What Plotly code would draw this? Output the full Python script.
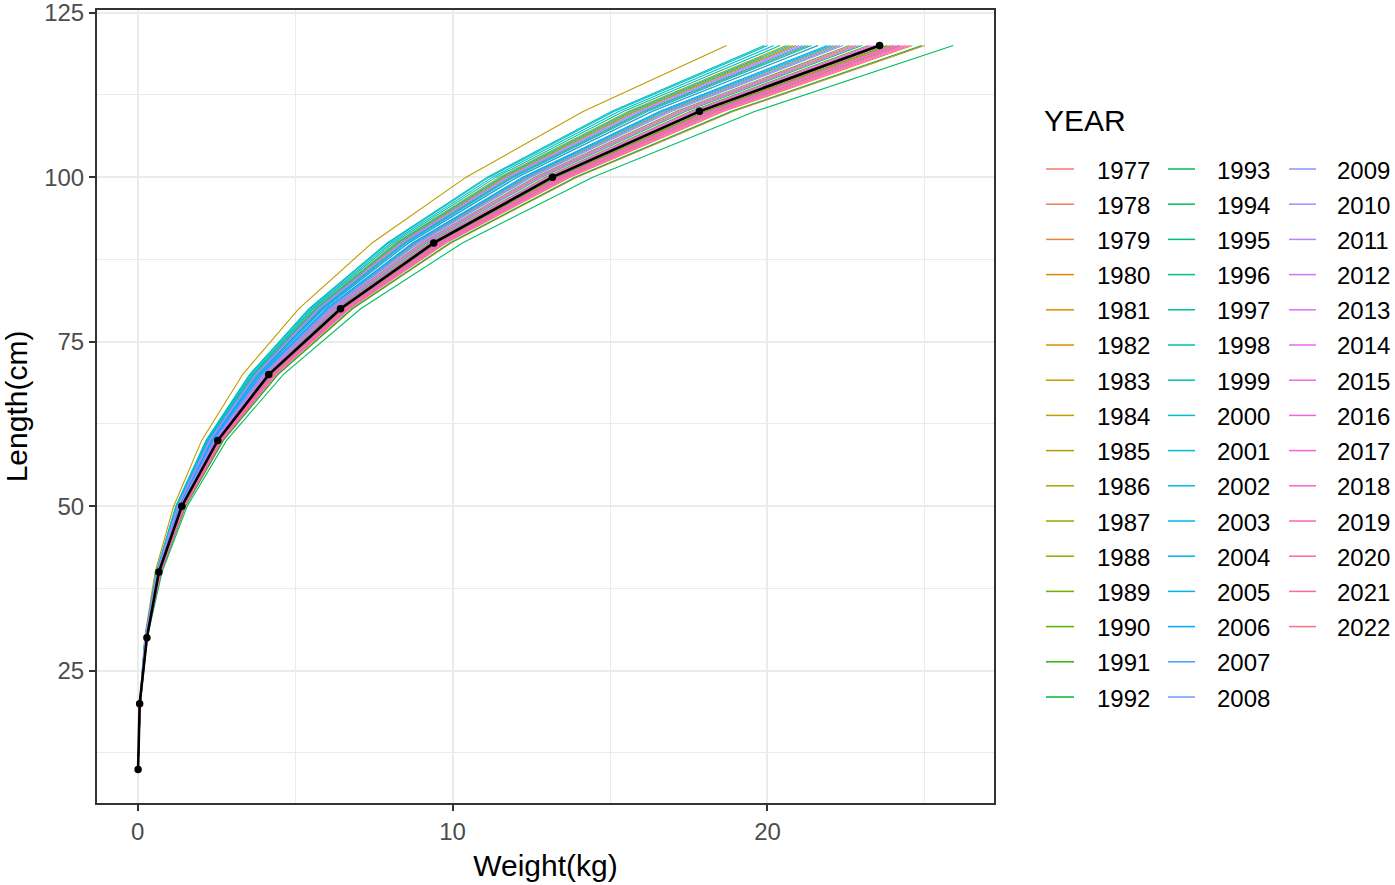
import math
import plotly.graph_objects as go

# Body length classes (cm)
LENGTHS = [10, 20, 30, 40, 50, 60, 70, 80, 90, 100, 110, 120]

# Reference length-weight curve (kg), drawn in black
MEAN_W = [0.01, 0.06, 0.29, 0.67, 1.40, 2.54, 4.16, 6.44, 9.40, 13.17, 17.84, 23.56]

# Yearly length-weight curves (kg at each length class)
W1977 = [0.009, 0.078, 0.28, 0.72, 1.48, 2.64, 4.33, 6.64, 9.67, 13.56, 18.40, 24.3]
W1978 = [0.009, 0.079, 0.29, 0.73, 1.49, 2.68, 4.38, 6.72, 9.79, 13.73, 18.62, 24.6]
W1979 = [0.009, 0.080, 0.29, 0.74, 1.52, 2.72, 4.46, 6.83, 9.95, 13.95, 18.93, 25.0]
W1980 = [0.008, 0.076, 0.28, 0.71, 1.45, 2.60, 4.26, 6.53, 9.51, 13.34, 18.09, 23.9]
W1981 = [0.008, 0.073, 0.26, 0.67, 1.38, 2.48, 4.06, 6.23, 9.08, 12.72, 17.26, 22.8]
W1982 = [0.008, 0.069, 0.25, 0.64, 1.31, 2.35, 3.85, 5.90, 8.60, 12.05, 16.35, 21.6]
W1983 = [0.008, 0.071, 0.26, 0.66, 1.35, 2.42, 3.96, 6.07, 8.84, 12.39, 16.81, 22.2]
W1984 = [0.007, 0.060, 0.22, 0.55, 1.14, 2.03, 3.33, 5.11, 7.44, 10.43, 14.16, 18.7]
W1985 = [0.007, 0.067, 0.24, 0.62, 1.26, 2.26, 3.71, 5.68, 8.28, 11.61, 15.75, 20.8]
W1986 = [0.007, 0.066, 0.24, 0.61, 1.25, 2.24, 3.67, 5.63, 8.20, 11.49, 15.59, 20.6]
W1987 = [0.007, 0.067, 0.24, 0.62, 1.27, 2.27, 3.72, 5.71, 8.32, 11.66, 15.82, 20.9]
W1988 = [0.007, 0.068, 0.25, 0.63, 1.29, 2.32, 3.80, 5.82, 8.48, 11.89, 16.12, 21.3]
W1989 = [0.008, 0.072, 0.26, 0.67, 1.37, 2.46, 4.03, 6.17, 9.00, 12.61, 17.11, 22.6]
W1990 = [0.008, 0.074, 0.27, 0.69, 1.41, 2.52, 4.13, 6.34, 9.24, 12.95, 17.56, 23.2]
W1991 = [0.008, 0.076, 0.28, 0.70, 1.44, 2.59, 4.24, 6.50, 9.47, 13.28, 18.02, 23.8]
W1992 = [0.009, 0.080, 0.29, 0.74, 1.51, 2.71, 4.44, 6.80, 9.91, 13.89, 18.85, 24.9]
W1993 = [0.008, 0.077, 0.28, 0.72, 1.47, 2.63, 4.31, 6.61, 9.63, 13.50, 18.32, 24.2]
W1994 = [0.009, 0.083, 0.30, 0.77, 1.57, 2.82, 4.62, 7.08, 10.31, 14.45, 19.61, 25.9]
W1995 = [0.008, 0.077, 0.28, 0.71, 1.46, 2.61, 4.28, 6.56, 9.55, 13.39, 18.17, 24.0]
W1996 = [0.008, 0.074, 0.27, 0.68, 1.40, 2.50, 4.10, 6.28, 9.16, 12.83, 17.41, 23.0]
W1997 = [0.008, 0.070, 0.26, 0.65, 1.34, 2.39, 3.92, 6.01, 8.76, 12.28, 16.65, 22.0]
W1998 = [0.007, 0.065, 0.24, 0.60, 1.24, 2.22, 3.64, 5.57, 8.12, 11.38, 15.44, 20.4]
W1999 = [0.007, 0.064, 0.23, 0.59, 1.21, 2.18, 3.56, 5.46, 7.96, 11.16, 15.14, 20.0]
W2000 = [0.007, 0.064, 0.23, 0.59, 1.21, 2.17, 3.55, 5.44, 7.92, 11.10, 15.06, 19.9]
W2001 = [0.007, 0.065, 0.23, 0.60, 1.23, 2.20, 3.60, 5.52, 8.04, 11.27, 15.29, 20.2]
W2002 = [0.007, 0.066, 0.24, 0.61, 1.26, 2.25, 3.69, 5.66, 8.24, 11.55, 15.67, 20.7]
W2003 = [0.007, 0.068, 0.25, 0.63, 1.29, 2.31, 3.78, 5.79, 8.44, 11.83, 16.05, 21.2]
W2004 = [0.007, 0.068, 0.25, 0.63, 1.30, 2.33, 3.81, 5.85, 8.52, 11.94, 16.20, 21.4]
W2005 = [0.008, 0.069, 0.25, 0.64, 1.31, 2.35, 3.85, 5.90, 8.60, 12.05, 16.35, 21.6]
W2006 = [0.008, 0.070, 0.25, 0.65, 1.33, 2.38, 3.90, 5.98, 8.72, 12.22, 16.58, 21.9]
W2007 = [0.008, 0.071, 0.26, 0.65, 1.34, 2.40, 3.94, 6.04, 8.80, 12.33, 16.73, 22.1]
W2008 = [0.008, 0.071, 0.26, 0.66, 1.35, 2.43, 3.97, 6.09, 8.88, 12.44, 16.88, 22.3]
W2009 = [0.008, 0.072, 0.26, 0.66, 1.36, 2.44, 3.99, 6.12, 8.92, 12.50, 16.96, 22.4]
W2010 = [0.007, 0.067, 0.24, 0.62, 1.27, 2.28, 3.74, 5.74, 8.36, 11.72, 15.90, 21.0]
W2011 = [0.007, 0.068, 0.24, 0.62, 1.28, 2.30, 3.76, 5.76, 8.40, 11.77, 15.97, 21.1]
W2012 = [0.008, 0.073, 0.26, 0.67, 1.38, 2.47, 4.05, 6.20, 9.04, 12.67, 17.18, 22.7]
W2013 = [0.008, 0.073, 0.27, 0.68, 1.39, 2.49, 4.08, 6.26, 9.12, 12.78, 17.34, 22.9]
W2014 = [0.008, 0.075, 0.27, 0.69, 1.41, 2.54, 4.15, 6.37, 9.28, 13.00, 17.64, 23.3]
W2015 = [0.008, 0.075, 0.27, 0.69, 1.42, 2.55, 4.17, 6.39, 9.32, 13.06, 17.71, 23.4]
W2016 = [0.008, 0.077, 0.28, 0.71, 1.46, 2.61, 4.28, 6.56, 9.55, 13.39, 18.17, 24.0]
W2017 = [0.008, 0.077, 0.28, 0.72, 1.47, 2.63, 4.31, 6.61, 9.63, 13.50, 18.32, 24.2]
W2018 = [0.009, 0.078, 0.28, 0.72, 1.48, 2.65, 4.35, 6.67, 9.71, 13.62, 18.47, 24.4]
W2019 = [0.009, 0.078, 0.28, 0.73, 1.49, 2.67, 4.37, 6.69, 9.75, 13.67, 18.55, 24.5]
W2020 = [0.008, 0.077, 0.28, 0.71, 1.46, 2.62, 4.29, 6.58, 9.59, 13.45, 18.24, 24.1]
W2021 = [0.008, 0.076, 0.27, 0.70, 1.44, 2.58, 4.22, 6.47, 9.43, 13.22, 17.94, 23.7]
W2022 = [0.008, 0.075, 0.27, 0.70, 1.43, 2.56, 4.19, 6.42, 9.36, 13.11, 17.79, 23.5]

YEARS = [1977, 1978, 1979, 1980, 1981, 1982, 1983, 1984, 1985, 1986, 1987, 1988,
         1989, 1990, 1991, 1992, 1993, 1994, 1995, 1996, 1997, 1998, 1999, 2000,
         2001, 2002, 2003, 2004, 2005, 2006, 2007, 2008, 2009, 2010, 2011, 2012,
         2013, 2014, 2015, 2016, 2017, 2018, 2019, 2020, 2021, 2022]
YEAR_W = [W1977, W1978, W1979, W1980, W1981, W1982, W1983, W1984, W1985, W1986,
          W1987, W1988, W1989, W1990, W1991, W1992, W1993, W1994, W1995, W1996,
          W1997, W1998, W1999, W2000, W2001, W2002, W2003, W2004, W2005, W2006,
          W2007, W2008, W2009, W2010, W2011, W2012, W2013, W2014, W2015, W2016,
          W2017, W2018, W2019, W2020, W2021, W2022]

X_TICKS = [0, 10, 20]
Y_TICKS = [25, 50, 75, 100, 125]


def hcl_hex(h, c=100.0, l=65.0):
    """Polar CIE-Luv colour to sRGB hex (D65 white)."""
    hr = math.radians(h)
    u, v = c * math.cos(hr), c * math.sin(hr)
    xn, yn, zn = 95.047, 100.0, 108.883
    y = yn * ((l + 16) / 116) ** 3 if l > 8 else yn * l / 903.3
    t = xn + 15 * yn + 3 * zn
    un, vn = 4 * xn / t, 9 * yn / t
    uu, vv = u / (13 * l) + un, v / (13 * l) + vn
    x = 9.0 * y * uu / (4 * vv)
    z = -x / 3 - 5 * y + 3 * y / vv
    x, y, z = x / 100, y / 100, z / 100
    rgb = [3.240479 * x - 1.537150 * y - 0.498535 * z,
           -0.969256 * x + 1.875992 * y + 0.041556 * z,
           0.055648 * x - 0.204043 * y + 1.057311 * z]
    out = []
    for ch in rgb:
        ch = 12.92 * ch if ch <= 0.0031308 else 1.055 * ch ** (1 / 2.4) - 0.055
        out.append(int(round(min(max(ch, 0.0), 1.0) * 255)))
    return "#%02X%02X%02X" % tuple(out)


n = len(YEARS)
COLORS = [hcl_hex(15 + 360.0 * i / n) for i in range(n)]

FONT = "Liberation Sans, Arial, sans-serif"
fig = go.Figure()

for yr, w, col in zip(YEARS, YEAR_W, COLORS):
    fig.add_trace(go.Scatter(x=w, y=LENGTHS, mode="lines", name=str(yr),
                             line=dict(color=col, width=1.1), showlegend=False))

fig.add_trace(go.Scatter(x=MEAN_W, y=LENGTHS, mode="lines+markers",
                         line=dict(color="black", width=2.6),
                         marker=dict(color="black", size=7.5),
                         showlegend=False))

# Plot area in pixels
L_M, R_M, T_M, B_M = 97, 401, 10, 82
W_PX, H_PX = 1395, 885
PW, PH = W_PX - L_M - R_M, H_PX - T_M - B_M


def px(xp):
    return (xp - L_M) / PW


def py(yp):
    return (H_PX - B_M - yp) / PH


# Three-column legend drawn by hand
shapes, annos = [], []
annos.append(dict(text="YEAR", x=px(1042), y=py(120), xref="paper", yref="paper",
                  xanchor="left", yanchor="middle", showarrow=False,
                  font=dict(family=FONT, size=30, color="black")))
col_line = [(1046, 1074), (1168, 1195), (1289, 1316)]
col_text = [1095, 1215, 1335]
per_col = 16
for i, (yr, col) in enumerate(zip(YEARS, COLORS)):
    c, r = divmod(i, per_col)
    yc = 169 + 35.2 * r
    shapes.append(dict(type="line", xref="paper", yref="paper",
                       x0=px(col_line[c][0]), x1=px(col_line[c][1]),
                       y0=py(yc), y1=py(yc), line=dict(color=col, width=1.5)))
    annos.append(dict(text=str(yr), x=px(col_text[c]), y=py(yc + 1),
                      xref="paper", yref="paper", xanchor="left", yanchor="middle",
                      showarrow=False, font=dict(family=FONT, size=24, color="black")))

fig.update_layout(
    width=W_PX, height=H_PX, autosize=False,
    margin=dict(l=L_M, r=R_M, t=T_M, b=B_M, pad=0),
    paper_bgcolor="white", plot_bgcolor="white",
    font=dict(family=FONT, color="black"),
    shapes=shapes, annotations=annos, showlegend=False,
)

axis_common = dict(
    showgrid=True, gridcolor="#EBEBEB", gridwidth=2,
    zeroline=False, showline=True, mirror=True, linecolor="#333333", linewidth=2,
    ticks="outside", ticklen=6, tickwidth=2, tickcolor="#333333",
    tickfont=dict(family=FONT, size=24, color="#4D4D4D"),
    ticklabeloverflow="allow",
    automargin=False,
)

fig.update_xaxes(
    range=[-1.295, 27.195], tickmode="array", tickvals=X_TICKS,
    minor=dict(tickmode="array", tickvals=[5, 15, 25], showgrid=True,
               gridcolor="#EBEBEB", gridwidth=1, ticks=""),
    title=dict(text="Weight(kg)", font=dict(family=FONT, size=30, color="black"),
               standoff=11),
    **axis_common,
)
fig.update_yaxes(
    range=[4.9, 125.4], tickmode="array", tickvals=Y_TICKS,
    minor=dict(tickmode="array", tickvals=[12.5, 37.5, 62.5, 87.5, 112.5],
               showgrid=True, gridcolor="#EBEBEB", gridwidth=1, ticks=""),
    title=dict(text="Length(cm)", font=dict(family=FONT, size=30, color="black"),
               standoff=10),
    **axis_common,
)

fig.write_html("out.html")
